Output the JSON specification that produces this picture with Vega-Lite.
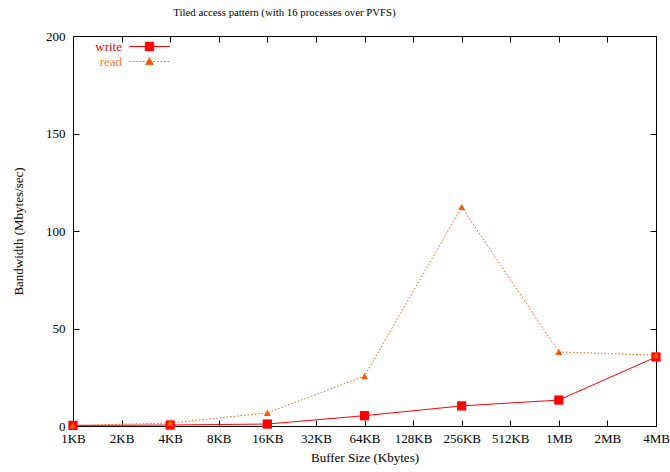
{
  "$schema": "https://vega.github.io/schema/vega-lite/v6.json",
  "width": 583,
  "height": 390,
  "autosize": {"type": "none"},
  "padding": {"left": 73, "top": 36, "right": 14, "bottom": 46},
  "title": {"text": "Tiled access pattern (with 16 processes over PVFS)", "fontSize": 10.8, "fontWeight": "normal", "font": "Liberation Serif", "color": "black", "anchor": "middle", "dx": -80, "offset": 12},
  "config": {
    "font": "Liberation Serif",
    "view": {"stroke": "black", "strokeWidth": 1},
    "axis": {"grid": false, "domain": false, "tickColor": "black", "tickSize": -6, "labelColor": "black", "titleColor": "black", "labelFont": "Liberation Serif", "titleFont": "Liberation Serif", "labelFontSize": 13, "titleFontSize": 13, "titleFontWeight": "normal"}
  },
  "data": {"values": [
    {"size": "1KB", "bw": 0.3, "series": "write"},
    {"size": "4KB", "bw": 0.5, "series": "write"},
    {"size": "16KB", "bw": 1.0, "series": "write"},
    {"size": "64KB", "bw": 5.3, "series": "write"},
    {"size": "256KB", "bw": 10.3, "series": "write"},
    {"size": "1MB", "bw": 13.3, "series": "write"},
    {"size": "4MB", "bw": 35.4, "series": "write"},
    {"size": "1KB", "bw": 0.3, "series": "read"},
    {"size": "4KB", "bw": 1.5, "series": "read"},
    {"size": "16KB", "bw": 6.7, "series": "read"},
    {"size": "64KB", "bw": 25.6, "series": "read"},
    {"size": "256KB", "bw": 112.3, "series": "read"},
    {"size": "1MB", "bw": 38.0, "series": "read"},
    {"size": "4MB", "bw": 36.3, "series": "read"}
  ]},
  "resolve": {"axis": {"x": "independent", "y": "independent"}},
  "layer": [
    {
      "transform": [{"filter": "datum.series === 'write'"}],
      "mark": {"type": "line", "strokeWidth": 1},
      "encoding": {
        "x": {"field": "size", "type": "ordinal", "sort": null, "scale": {"type": "point", "padding": 0, "domain": ["1KB","2KB","4KB","8KB","16KB","32KB","64KB","128KB","256KB","512KB","1MB","2MB","4MB"]}, "axis": {"orient": "bottom", "labelAngle": 0, "title": "Buffer Size (Kbytes)", "labelPadding": 12, "titlePadding": 6}},
        "y": {"field": "bw", "type": "quantitative", "scale": {"domain": [0, 200], "nice": false}, "axis": {"orient": "left", "values": [0, 50, 100, 150, 200], "title": "Bandwidth (Mbytes/sec)", "labelPadding": 14, "titlePadding": 20}},
        "color": {"field": "series", "type": "nominal", "scale": {"domain": ["write", "read"], "range": ["#ff0000", "#ff5a00"]},
          "legend": {"orient": "none", "legendX": 69, "legendY": 3, "padding": 0, "title": null, "labelFontSize": 13, "labelFont": "Liberation Serif", "labelAlign": "right", "labelOffset": -35, "symbolSize": 196, "rowPadding": 0, "symbolStrokeWidth": 1,
            "encode": {
              "labels": {"update": {"fill": {"signal": "datum.value === 'write' ? '#ff0000' : '#ff7a30'"}}},
              "symbols": {"update": {
                "shape": {"signal": "datum.value === 'write' ? 'M-2.9,0H2.9M-0.6,-0.6H0.6V0.6H-0.6Z' : 'M-2.9,0H2.9M-0.6,0.45L0,-0.6L0.6,0.45Z'"},
                "strokeDash": {"signal": "datum.value === 'write' ? [] : [1.5, 2]"},
                "fill": {"signal": "datum.value === 'write' ? '#ff0000' : '#ff5a00'"},
                "stroke": {"signal": "datum.value === 'write' ? '#ff0000' : '#ff5a00'"},
                "fillOpacity": {"value": 1}
              }}
            }}}
      }
    },
    {
      "transform": [{"filter": "datum.series === 'write'"}],
      "mark": {"type": "point", "shape": "square", "filled": true, "size": 85, "opacity": 1},
      "encoding": {
        "x": {"field": "size", "type": "ordinal", "sort": null, "axis": null},
        "y": {"field": "bw", "type": "quantitative", "axis": null},
        "color": {"field": "series", "type": "nominal"}
      }
    },
    {
      "transform": [{"filter": "datum.series === 'read'"}],
      "mark": {"type": "line", "strokeWidth": 1, "strokeDash": [1.5, 2]},
      "encoding": {
        "x": {"field": "size", "type": "ordinal", "sort": null, "axis": {"orient": "top", "labels": false, "title": null}},
        "y": {"field": "bw", "type": "quantitative", "axis": {"orient": "right", "labels": false, "title": null, "values": [0, 50, 100, 150, 200]}},
        "color": {"field": "series", "type": "nominal"}
      }
    },
    {
      "transform": [{"filter": "datum.series === 'read'"}],
      "mark": {"type": "point", "shape": "triangle-up", "filled": true, "size": 50, "opacity": 1},
      "encoding": {
        "x": {"field": "size", "type": "ordinal", "sort": null, "axis": null},
        "y": {"field": "bw", "type": "quantitative", "axis": null},
        "color": {"field": "series", "type": "nominal"}
      }
    }
  ]
}
